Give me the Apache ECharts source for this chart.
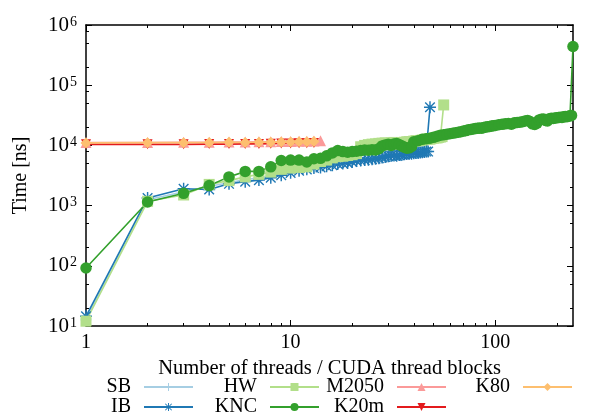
<!DOCTYPE html>
<html><head><meta charset="utf-8">
<script src="https://cdn.jsdelivr.net/npm/echarts@6/dist/echarts.min.js"></script>
<style>html,body{margin:0;padding:0;background:#fff}#c{width:589px;height:417px}</style>
</head><body><div id="c"></div>
<script>
// ---- tick values ----
const xMajorTicks = [1, 10, 100];
const xMinorTicks = [2, 3, 4, 5, 6, 7, 8, 9, 20, 30, 40, 50, 60, 70, 80, 90, 200];
const yMajorTicks = [10, 100, 1000, 10000, 100000, 1000000];
const yMinorTicks = [20, 50, 80, 200, 500, 800, 2000, 5000, 8000, 20000, 50000, 80000, 200000, 500000, 800000];

// ---- series data ----
const threadsSB = [1,2,3,4,5,6,7,8,9,10,11,12,13,14,15,16,17,18,19,20,21,22,23,24,25,26,27,28,29,30,31,32];
const timeSB = [13,1250,1700,2100,2400,2700,2900,3100,3400,3700,3900,4100,4300,4500,4700,4800,5000,5100,5300,5400,5500,5600,5800,5900,6000,6100,6200,6300,6400,6500,6600,6700];

const threadsIB = [1,2,3,4,5,6,7,8,9,10,11,12,13,14,15,16,17,18,19,20,21,22,23,24,25,26,27,28,29,30,31,32,33,34,35,36,37,38,39,40,41,42,43,44,45,46,47,48];
const timeIB = [14.5,1340,1900,1850,2300,2500,2650,2900,3200,3500,3800,4000,4200,4300,4500,4700,4900,5000,5100,5300,5500,5600,5700,5800,5900,6000,6100,6300,6400,6600,6700,6800,6700,6900,7000,7100,7200,7300,7300,7400,7500,7500,7600,7700,7800,7900,7900,43000];

const threadsHW = [1,2,3,4,5,6,7,8,9,10,11,12,13,14,15,16,17,18,19,20,21,22,23,24,25,26,27,28,29,30,31,32,33,34,35,36,37,38,39,40,41,42,43,44,45,46,47,48,49,50,51,52,53,54,55,56];
const timeHW = [12,1180,1500,2250,2600,3000,3300,3600,4000,4200,4300,4400,4900,5400,5700,6200,6500,6600,6800,7000,7300,9500,10000,10300,10500,10600,10800,10900,11000,10800,11000,11200,11000,10500,10800,11300,11500,11600,11400,11800,12000,11900,12100,12300,12500,12600,12800,12700,13000,13200,13400,13300,13600,13800,14000,47000];

const threadsKNC = [1,2,3,4,5,6,7,8,9,10,11,12,13,14,15,16,17,18,19,20,21,22,23,24,25,26,27,28,29,30,31,32,33,34,35,36,37,38,39,40,
  42,44,46,48,50,52,54,56,58,60,62,64,66,68,70,72,74,76,78,80,82,84,86,88,90,92,94,96,98,100,
  104,108,112,116,120,124,128,132,136,140,144,148,152,156,160,164,168,172,176,180,184,188,192,196,200,204,208,212,216,220,224,228,232,236,240];
const timeKNC = [92,1150,1600,2150,3000,3700,3700,4400,5600,5700,5700,5300,6000,6100,6700,7500,8200,7900,7700,7900,8000,8200,8400,8300,8500,8400,8800,9800,10200,10400,10000,10500,10800,10300,9800,9300,9000,9100,9600,11500,
  12000,12600,12900,13200,13600,14200,14800,15000,15300,15600,15900,16300,16500,16900,17300,17600,18200,18400,18700,19000,19200,19500,19300,19800,20300,20500,20600,21000,21300,21500,
  22000,22400,22800,23200,22500,23700,24000,24300,24800,25500,26000,25000,22800,22300,23500,26500,27200,27500,26000,25500,27800,28200,28000,28500,28800,29000,29300,29200,29800,30200,30000,30500,31000,31500,440000];

const threadsM2050 = [1,2,3,4,5,6,7,8,9,10,11,12,13,14];
const timeM2050 = [11200,11200,11300,11300,11400,11400,11500,11500,11600,11600,11700,11700,11800,11900];
const threadsK20m = [1,2,3,4,5,6,7,8,9,10,11,12,13];
const timeK20m = [10400,10400,10400,10500,10500,10600,10600,10700,10800,10800,10900,10900,11000];
const threadsK80 = [1,2,3,4,5,6,7,8,9,10,11,12,13];
const timeK80 = [11000,11100,11100,11200,11300,11200,11300,11300,11400,11400,11500,11500,11600];

const FONT = 'Liberation Serif';
const plusPath = 'path://M0,4.4H10V5.6H0ZM4.4,0H5.6V10H4.4Z';
const starPath = 'path://M0,4.4H10V5.6H0ZM4.4,0H5.6V10H4.4ZM0.6,1.4L1.4,0.6L9.4,8.6L8.6,9.4ZM8.6,0.6L9.4,1.4L1.4,9.4L0.6,8.6Z';

function pairs(xs, ys) { return xs.map((x, i) => [x, ys[i]]); }

function mkSeries(name, xs, ys, color, symbol, size) {
  return {
    name, type: 'line', xAxisIndex: 0, yAxisIndex: 0,
    data: pairs(xs, ys), symbol, symbolSize: size, showSymbol: true,
    lineStyle: { color, width: 1.6 }, itemStyle: { color },
    emphasis: { disabled: true }, animation: false
  };
}

const axisCommon = { type: 'log', logBase: 10, splitLine: { show: false }, minorTick: { show: false } };
const lineBlack = { show: true, lineStyle: { color: '#000', width: 1.5 } };

function xAx(position, ticks, len, showLine, withLabels) {
  const a = Object.assign({}, axisCommon, {
    min: 1, max: 240, position, gridIndex: 0,
    axisLine: showLine ? lineBlack : { show: false },
    axisTick: { show: true, inside: true, length: len, customValues: ticks, lineStyle: { color: '#000', width: 1 } },
    axisLabel: withLabels ? { show: true, customValues: xMajorTicks, fontFamily: FONT, fontSize: 20, color: '#000', margin: 7, formatter: v => String(v) } : { show: false }
  });
  if (withLabels) {
    a.name = 'Number of threads / CUDA thread blocks';
    a.nameLocation = 'middle';
    a.nameGap = 30;
    a.nameTextStyle = { fontFamily: FONT, fontSize: 20.5, color: '#000' };
  }
  return a;
}
function yAx(position, ticks, len, showLine, withLabels) {
  const a = Object.assign({}, axisCommon, {
    min: 10, max: 1000000, position, gridIndex: 0,
    axisLine: showLine ? lineBlack : { show: false },
    axisTick: { show: true, inside: true, length: len, customValues: ticks, lineStyle: { color: '#000', width: 1 } },
    axisLabel: withLabels ? {
      show: true, customValues: yMajorTicks, margin: 9, color: '#000',
      formatter: v => '{b|10}{s|' + Math.round(Math.log10(v)) + '}',
      rich: {
        b: { fontFamily: FONT, fontSize: 21, color: '#000', lineHeight: 20 },
        s: { fontFamily: FONT, fontSize: 14, color: '#000', verticalAlign: 'top', lineHeight: 14, padding: [0, 0, 8, 1] }
      }
    } : { show: false }
  });
  if (withLabels) {
    a.name = 'Time [ns]';
    a.nameLocation = 'middle';
    a.nameGap = 55;
    a.nameTextStyle = { fontFamily: FONT, fontSize: 20, color: '#000' };
  }
  return a;
}

const legendCommon = {
  orient: 'vertical', align: 'right', itemWidth: 49, itemHeight: 10, itemGap: 0, padding: 0, top: 377,
  textStyle: { fontFamily: FONT, fontSize: 20, color: '#000', lineHeight: 20, padding: [0, 8, 0, 0] },
  selectedMode: false
};

const option = {
  backgroundColor: '#fff',
  animation: false,
  grid: { left: 86, top: 25, width: 487, height: 301, containLabel: false },
  legend: [
    Object.assign({}, legendCommon, { data: ['SB', 'IB'], right: 395 }),
    Object.assign({}, legendCommon, { data: ['HW', 'KNC'], right: 269 }),
    Object.assign({}, legendCommon, { data: ['M2050', 'K20m'], right: 142 }),
    Object.assign({}, legendCommon, { data: ['K80'], right: 16 })
  ],
  xAxis: [
    xAx('bottom', xMajorTicks, 6, true, true),
    xAx('bottom', xMinorTicks, 3, false, false),
    xAx('top', xMajorTicks, 6, true, false),
    xAx('top', xMinorTicks, 3, false, false)
  ],
  yAxis: [
    yAx('left', yMajorTicks, 6, true, true),
    yAx('left', yMinorTicks, 3, false, false),
    yAx('right', yMajorTicks, 6, true, false),
    yAx('right', yMinorTicks, 3, false, false)
  ],
  series: [
    mkSeries('SB', threadsSB, timeSB, '#a6cee3', plusPath, 11),
    mkSeries('IB', threadsIB, timeIB, '#1f78b4', starPath, 12),
    mkSeries('HW', threadsHW, timeHW, '#b2df8a', 'rect', 11),
    mkSeries('KNC', threadsKNC, timeKNC, '#33a02c', 'circle', 11.5),
    mkSeries('M2050', threadsM2050, timeM2050, '#fb9a99', 'triangle', 11),
    mkSeries('K20m', threadsK20m, timeK20m, '#e31a1c', 'path://M0,0H10L5,9Z', 10),
    mkSeries('K80', threadsK80, timeK80, '#fdbf6f', 'diamond', 11)
  ]
};

const chart = echarts.init(document.getElementById('c'), null, { renderer: 'canvas' });
chart.setOption(option);
</script>
</body></html>
